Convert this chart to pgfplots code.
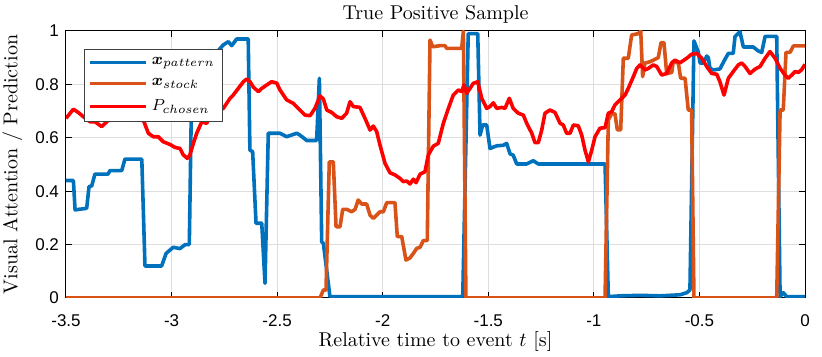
\documentclass[border=0pt]{standalone}
\usepackage{fontspec}
\usepackage{amsmath}
\usepackage{bm}
\usepackage{pgfplots}
\pgfplotsset{compat=1.18}
\newfontfamily\ticksf{Liberation Sans}

\definecolor{mblue}{rgb}{0,0.447,0.741}
\definecolor{morange}{rgb}{0.85,0.325,0.098}

\begin{document}
\begin{tikzpicture}
\path[use as bounding box] (-33pt,-29.5pt) rectangle (378pt,149pt);
\begin{axis}[
    scale only axis,
    width=369.5pt, height=133.5pt,
    xmin=-3.5, xmax=0, ymin=0, ymax=1,
    xtick={-3.5,-3,-2.5,-2,-1.5,-1,-0.5,0},
    xticklabels={-3.5,-3,-2.5,-2,-1.5,-1,-0.5,0},
    ytick={0,0.2,0.4,0.6,0.8,1},
    yticklabels={0,0.2,0.4,0.6,0.8,1},
    ticklabel style={font=\ticksf\fontsize{8.5}{10}\selectfont},
    xticklabel style={yshift=-5pt},
    tick align=inside,
    major tick length=3pt,
    tick style={black, line width=0.5pt},
    axis line style={black, line width=0.5pt},
    grid=major,
    grid style={black!13, line width=0.5pt},
    every axis title shift=0pt,
    title={True Positive Sample},
    title style={at={([yshift=5.5pt]axis description cs:0.5,1)}, anchor=base},
    xlabel={Relative time to event $t$ [s]},
    xlabel style={at={([yshift=-24.3pt]axis description cs:0.5,0)}, anchor=base},
    ylabel={Visual Attention / Prediction},
    ylabel style={at={([xshift=-24.3pt]axis description cs:0,0.5)}, anchor=base},
    legend cell align=left,
    legend style={at={(0.024,0.933)}, anchor=north west, draw=black!75,
        line width=0.5pt, font=\fontsize{8}{10}\selectfont, inner sep=2pt, row sep=1.5pt},
    legend image code/.code={\draw[#1] (0pt,0pt) -- (28pt,0pt);},
    every axis plot/.append style={line width=1.8pt, line join=round},
]

% x_pattern
\addplot[mblue] coordinates {
(-3.5,0.44) (-3.465,0.44) (-3.457,0.33) (-3.402,0.336) (-3.391,0.417) (-3.378,0.42)
(-3.363,0.464) (-3.301,0.464) (-3.292,0.477) (-3.236,0.477) (-3.221,0.52) (-3.141,0.52)
(-3.126,0.12) (-3.047,0.12) (-3.026,0.167) (-2.992,0.19) (-2.96,0.185) (-2.936,0.2)
(-2.916,0.2) (-2.905,0.78) (-2.87,0.83) (-2.845,0.854) (-2.81,0.854) (-2.786,0.92)
(-2.755,0.948) (-2.731,0.96) (-2.715,0.945) (-2.692,0.97) (-2.637,0.97) (-2.629,0.554)
(-2.616,0.548) (-2.60,0.28) (-2.573,0.28) (-2.5575,0.055) (-2.542,0.617) (-2.4865,0.617)
(-2.455,0.604) (-2.407,0.617) (-2.392,0.61) (-2.36,0.59) (-2.313,0.59) (-2.30,0.823)
(-2.289,0.21) (-2.281,0.205) (-2.25,0.005) (-1.621,0.005) (-1.595,0.99) (-1.55,0.99)
(-1.539,0.61) (-1.5265,0.648) (-1.5075,0.648) (-1.492,0.56) (-1.46,0.57) (-1.429,0.572)
(-1.413,0.579) (-1.397,0.54) (-1.382,0.535) (-1.3655,0.502) (-1.318,0.502) (-1.287,0.514)
(-1.263,0.502) (-0.947,0.502) (-0.9315,0.005) (-0.876,0.008) (-0.781,0.01) (-0.687,0.008)
(-0.592,0.012) (-0.56,0.02) (-0.545,0.03) (-0.526,0.963) (-0.505,0.92) (-0.497,0.88)
(-0.482,0.88) (-0.4655,0.906) (-0.458,0.90) (-0.45,0.86) (-0.434,0.854) (-0.403,0.858)
(-0.379,0.894) (-0.363,0.916) (-0.34,0.916) (-0.3315,0.979) (-0.308,0.997) (-0.292,0.94)
(-0.245,0.94) (-0.221,0.925) (-0.205,0.92) (-0.189,0.98) (-0.134,0.98) (-0.118,0.005)
(-0.103,0.02) (-0.087,0.005) (0,0.005)
};

% x_stock
\addplot[morange] coordinates {
(-3.5,0) (-2.297,0) (-2.281,0.03) (-2.2686,0.03) (-2.253,0.51) (-2.234,0.51)
(-2.221,0.267) (-2.202,0.267) (-2.1895,0.332) (-2.1706,0.332) (-2.147,0.323) (-2.131,0.332)
(-2.116,0.367) (-2.0995,0.352) (-2.076,0.352) (-2.06,0.31) (-2.0446,0.298) (-2.013,0.323)
(-1.997,0.323) (-1.981,0.357) (-1.942,0.357) (-1.931,0.23) (-1.91,0.23) (-1.89,0.142)
(-1.871,0.15) (-1.855,0.167) (-1.839,0.186) (-1.823,0.19) (-1.808,0.215) (-1.789,0.215)
(-1.776,0.966) (-1.763,0.941) (-1.729,0.945) (-1.705,0.945) (-1.697,0.935) (-1.626,0.935)
(-1.618,1.0) (-1.606,0) (-0.947,0) (-0.9315,0.667) (-0.9155,0.69) (-0.90,0.69)
(-0.889,0.63) (-0.873,0.63) (-0.8605,0.898) (-0.837,0.898) (-0.821,0.985) (-0.7895,0.99)
(-0.778,1.0) (-0.769,0.829) (-0.758,0.88) (-0.734,0.885) (-0.71,0.894) (-0.695,0.9)
(-0.682,0.956) (-0.668,0.956) (-0.655,0.84) (-0.631,0.845) (-0.624,0.885) (-0.60,0.88)
(-0.589,0.823) (-0.568,0.823) (-0.553,0.704) (-0.537,0.704) (-0.526,0) (-0.134,0)
(-0.118,0.704) (-0.103,0.704) (-0.09,0.92) (-0.071,0.92) (-0.055,0.944) (0,0.944)
};

% P_chosen
\addplot[red] coordinates {
(-3.5,0.673) (-3.465,0.707) (-3.442,0.695) (-3.418,0.679) (-3.386,0.66) (-3.363,0.66)
(-3.331,0.642) (-3.307,0.66) (-3.2836,0.679) (-3.26,0.69) (-3.23,0.70) (-3.20,0.69)
(-3.17,0.68) (-3.134,0.667) (-3.11,0.617) (-3.0865,0.604) (-3.063,0.604) (-3.039,0.585)
(-3.007,0.575) (-2.984,0.564) (-2.96,0.56) (-2.9445,0.536) (-2.9255,0.523) (-2.913,0.536)
(-2.897,0.579) (-2.881,0.617) (-2.857,0.66) (-2.834,0.654) (-2.818,0.679) (-2.802,0.71)
(-2.779,0.704) (-2.755,0.71) (-2.739,0.729) (-2.723,0.748) (-2.708,0.76) (-2.684,0.785)
(-2.66,0.81) (-2.644,0.82) (-2.6285,0.81) (-2.613,0.79) (-2.589,0.773) (-2.573,0.785)
(-2.549,0.798) (-2.526,0.81) (-2.502,0.805) (-2.4865,0.779) (-2.455,0.742) (-2.4235,0.729)
(-2.392,0.704) (-2.368,0.685) (-2.344,0.683) (-2.321,0.71) (-2.297,0.757) (-2.281,0.745)
(-2.265,0.704) (-2.242,0.695) (-2.218,0.679) (-2.194,0.673) (-2.171,0.692) (-2.155,0.735)
(-2.139,0.717) (-2.108,0.714) (-2.084,0.673) (-2.06,0.629) (-2.0446,0.644) (-2.0285,0.623)
(-2.013,0.573) (-1.989,0.504) (-1.9655,0.469) (-1.942,0.461) (-1.918,0.448) (-1.9025,0.436)
(-1.886,0.438) (-1.871,0.427) (-1.855,0.445) (-1.842,0.432) (-1.823,0.464) (-1.80,0.473)
(-1.784,0.536) (-1.760,0.569) (-1.737,0.579) (-1.713,0.654) (-1.689,0.71) (-1.666,0.76)
(-1.642,0.779) (-1.626,0.773) (-1.615,0.798) (-1.602,0.767) (-1.5866,0.785) (-1.571,0.804)
(-1.55,0.81) (-1.531,0.748) (-1.5075,0.71) (-1.492,0.717) (-1.476,0.731) (-1.46,0.71)
(-1.436,0.714) (-1.421,0.71) (-1.4004,0.748) (-1.382,0.71) (-1.358,0.692) (-1.334,0.685)
(-1.318,0.654) (-1.294,0.617) (-1.279,0.582) (-1.263,0.582) (-1.247,0.629) (-1.2314,0.692)
(-1.208,0.704) (-1.184,0.695) (-1.16,0.654) (-1.145,0.648) (-1.129,0.617) (-1.113,0.617)
(-1.097,0.648) (-1.074,0.645) (-1.0575,0.61) (-1.042,0.554) (-1.026,0.51) (-1.01,0.554)
(-0.9945,0.604) (-0.971,0.636) (-0.947,0.638) (-0.9315,0.692) (-0.9155,0.698) (-0.90,0.723)
(-0.876,0.742) (-0.8525,0.76) (-0.837,0.785) (-0.813,0.829) (-0.797,0.86) (-0.781,0.873)
(-0.758,0.854) (-0.742,0.86) (-0.7185,0.873) (-0.702,0.867) (-0.679,0.835) (-0.655,0.841)
(-0.631,0.881) (-0.616,0.891) (-0.592,0.881) (-0.56,0.898) (-0.537,0.913) (-0.513,0.916)
(-0.489,0.898) (-0.4655,0.867) (-0.442,0.841) (-0.418,0.838) (-0.403,0.81) (-0.3836,0.76)
(-0.363,0.823) (-0.34,0.848) (-0.316,0.873) (-0.30,0.88) (-0.284,0.867) (-0.2605,0.841)
(-0.237,0.857) (-0.213,0.867) (-0.189,0.898) (-0.166,0.923) (-0.142,0.898) (-0.118,0.86)
(-0.095,0.835) (-0.079,0.823) (-0.063,0.835) (-0.047,0.848) (-0.031,0.845) (-0.016,0.855)
(0,0.875)
};

\legend{$\bm{x}_{pattern}$, $\bm{x}_{stock}$, $P_{chosen}$}
\end{axis}
\end{tikzpicture}
\end{document}
